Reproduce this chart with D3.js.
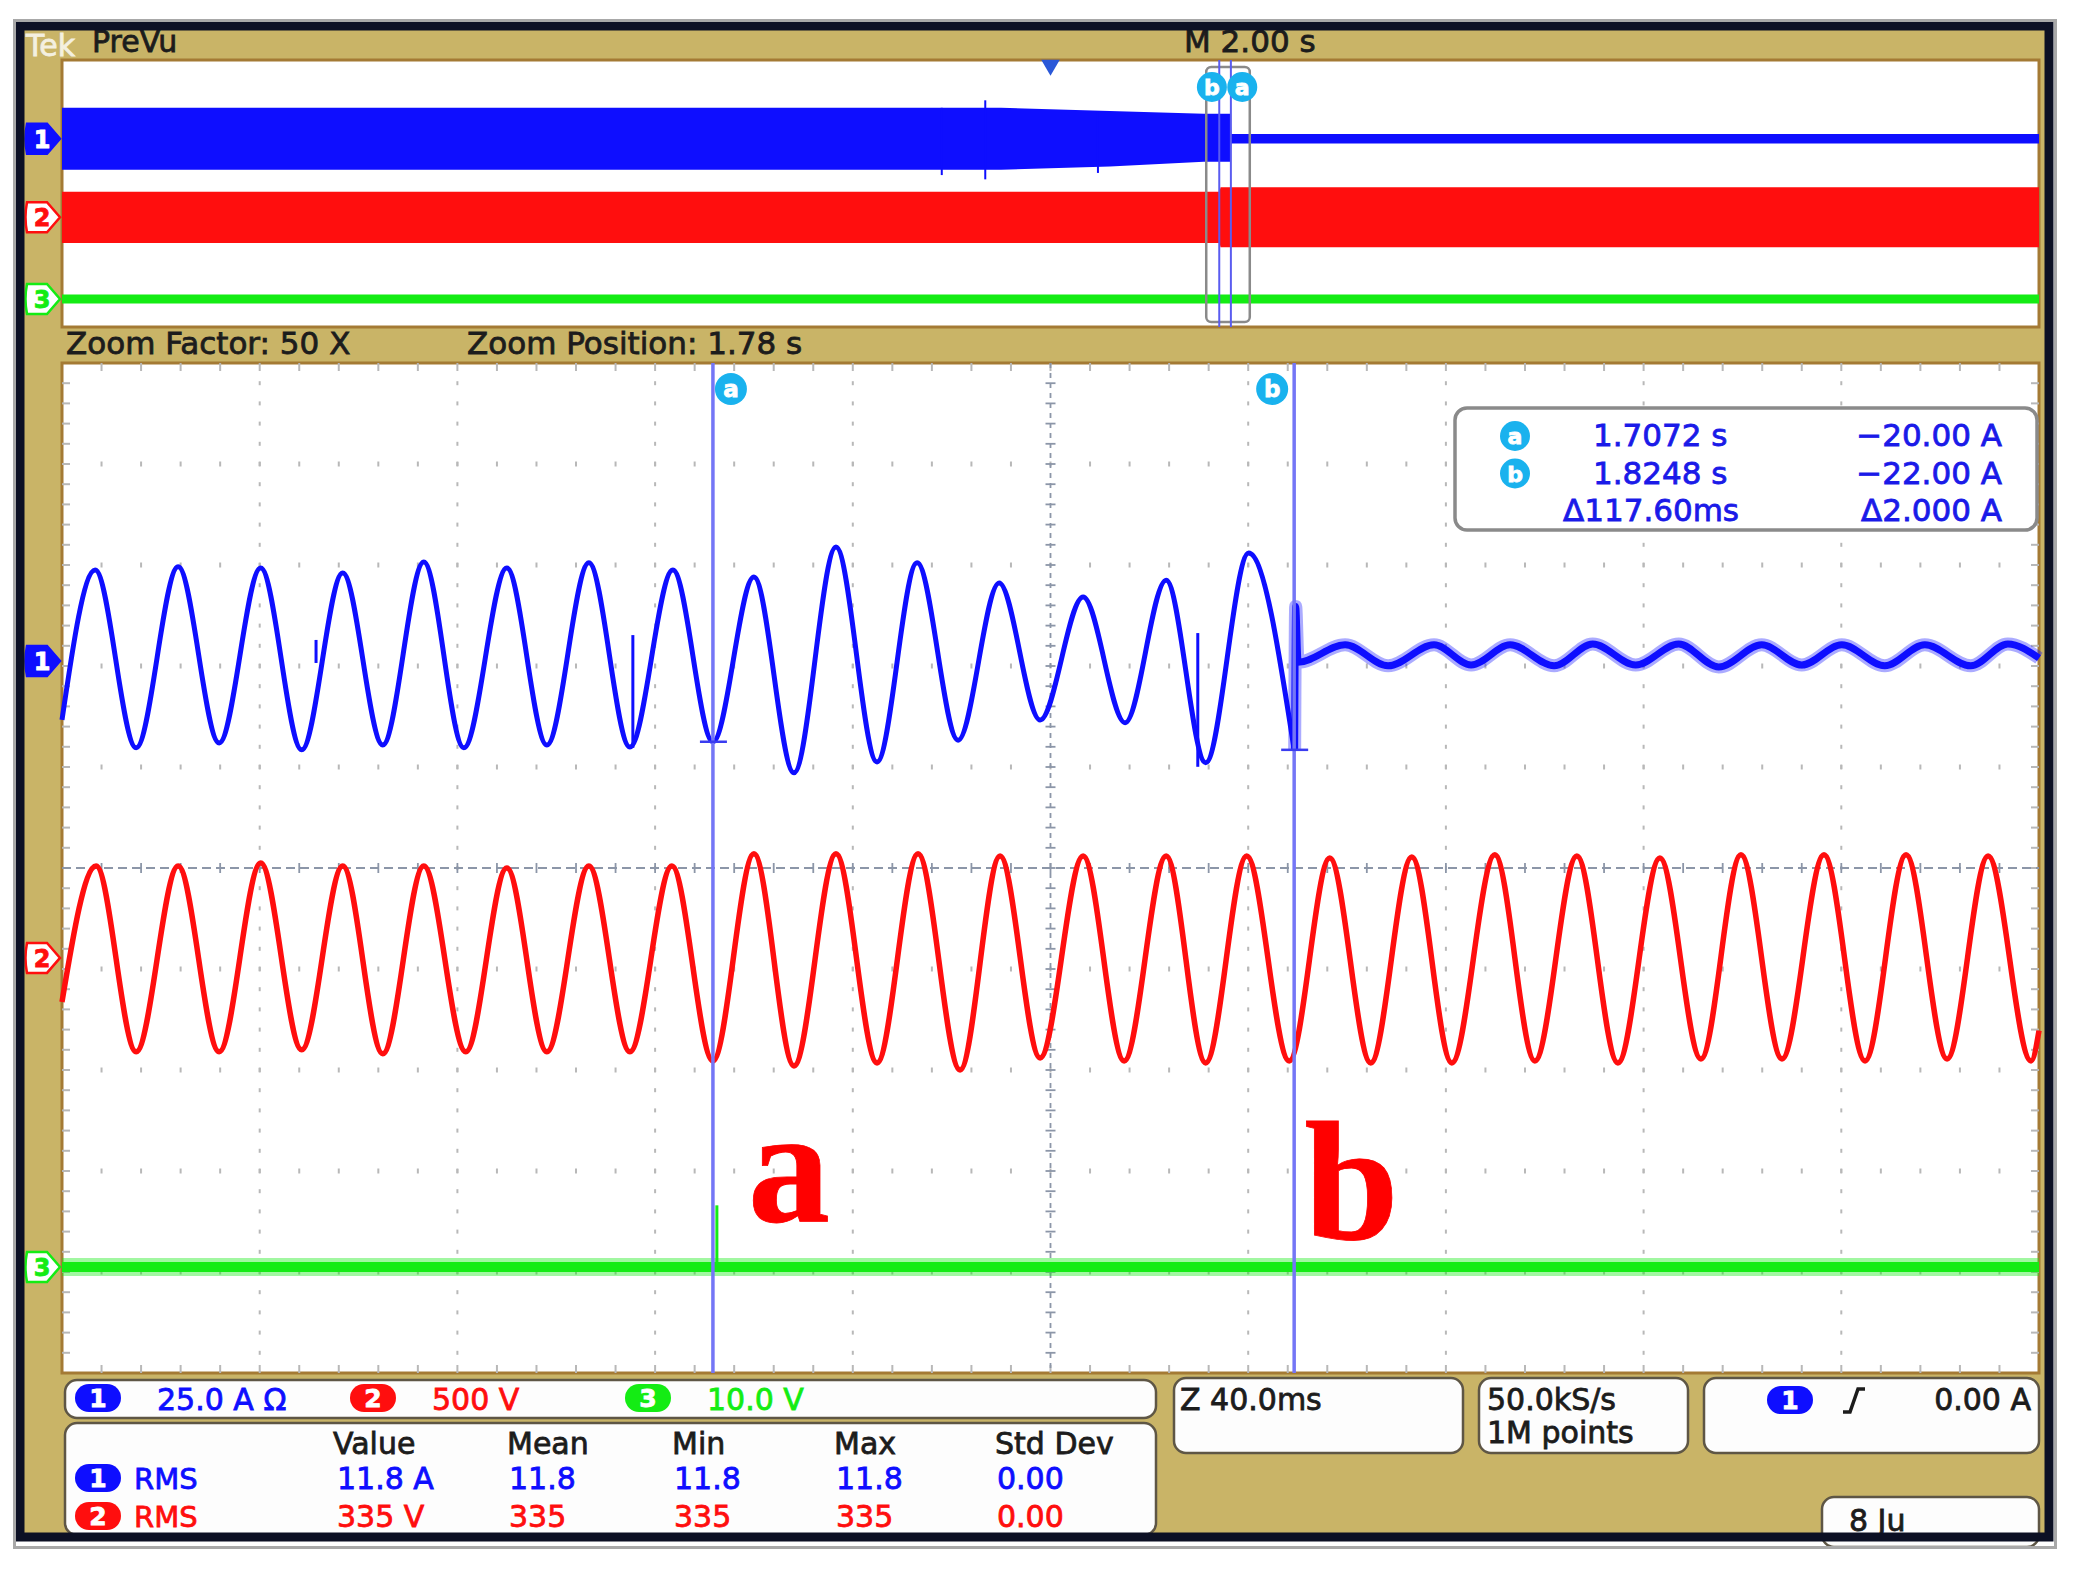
<!DOCTYPE html>
<html lang="en">
<head>
<meta charset="utf-8">
<script src="https://d3js.org/d3.v7.min.js"></script>
<style>
  body { margin: 0; background: #fff; }
</style>
</head>
<body>
<script>
var width = 2079, height = 1569;

var chColors  = ["#0e0eff", "#ff0e0e", "#14ec14"];
var chOffsets = [2.05, -0.89, -3.95];   // channel position, divisions
var chScales  = [25, 500, 10];          // units per division (A, V, V)
var scaleLabels = ["25.0 A \u03A9", "500 V", "10.0 V"];

// zoom window (40 ms/div), [time s, value]
var ch1Wave = [
  [1.5755, -14.6], [1.5822, 22.5], [1.5905, -21.5], [1.5990, 23.3], [1.6073, -20.3],
  [1.6157, 23.0], [1.6240, -22.0], [1.6323, 21.8], [1.6404, -20.8], [1.6487, 24.5],
  [1.6568, -21.5], [1.6655, 23.0], [1.6736, -20.8], [1.6821, 24.3], [1.6904, -21.3],
  [1.6991, 22.5], [1.7072, -20.0], [1.7155, 20.8], [1.7236, -27.7], [1.7321, 28.2],
  [1.7404, -25.0], [1.7485, 24.3], [1.7568, -19.6], [1.7651, 19.3], [1.7734, -14.6],
  [1.7821, 15.8], [1.7906, -15.3], [1.7989, 20.0], [1.8069, -25.2], [1.8156, 26.7],
  [1.8248, -22.0]
];
var ch1Ripple = [
  [1.8249, -22.0], [1.8251, 13.5], [1.8256, -0.3], [1.8351, 4.0], [1.8438, -1.2],
  [1.8531, 4.0], [1.8606, -1.0], [1.8685, 4.0], [1.8774, -1.2], [1.8852, 4.2],
  [1.8939, -1.0], [1.9026, 4.2], [1.9107, -1.5], [1.9194, 4.0], [1.9275, -1.0],
  [1.9356, 4.0], [1.9443, -1.2], [1.9524, 4.0], [1.9617, -1.2], [1.9692, 4.2],
  [1.9755, 0.7]
];
var ch1Glitches = [[1.6269, 5.2, -0.5], [1.6910, 6.4, -21.5], [1.8053, 6.9, -26.2]];
var ch2Wave = [
  [1.5755, -218], [1.5824, 455], [1.5905, -465], [1.5990, 455], [1.6073, -465],
  [1.6157, 470], [1.6240, -455], [1.6323, 455], [1.6404, -475], [1.6487, 455],
  [1.6572, -465], [1.6655, 445], [1.6736, -465], [1.6821, 455], [1.6904, -465],
  [1.6989, 455], [1.7072, -510], [1.7155, 515], [1.7236, -535], [1.7321, 515],
  [1.7404, -520], [1.7487, 515], [1.7572, -555], [1.7653, 505], [1.7734, -495],
  [1.7821, 505], [1.7904, -510], [1.7989, 505], [1.8069, -520], [1.8152, 505],
  [1.8238, -510], [1.8320, 495], [1.8403, -520], [1.8486, 500], [1.8567, -520],
  [1.8654, 510], [1.8735, -510], [1.8820, 505], [1.8903, -520], [1.8988, 495],
  [1.9071, -500], [1.9152, 510], [1.9235, -500], [1.9320, 510], [1.9403, -510],
  [1.9486, 510], [1.9569, -500], [1.9652, 505], [1.9739, -510], [1.9755, -360]
];
var ch3Wave = [[1.5755, 0], [1.9755, 0]];
var ch3Glitches = [[1.7080, 6.1, 0]];

// PreVu record (2 s/div), [time s, high, low]
var ch1Band = [[-10, 29, -29], [-0.5, 29, -29], [0.6, 26, -26], [1.55, 23.5, -21.5],
               [1.82, 23.5, -21.5], [1.83, 4.5, -4.5], [10, 4.5, -4.5]];
var ch1BandSpikes = [[-1.10, 29, -34], [-0.66, 36, -38], [0.48, 26, -32]];
var ch2Band = [[-10, 480, -480], [1.71, 480, -480], [1.72, 560, -560], [10, 560, -560]];
var ch3Band = [[-10, 1.7, -1.7], [10, 1.7, -1.7]];

// zoom + cursors
var zoomCenter = 1.7755, zoomSpan = 0.4;
var cursorNames  = ["a", "b"];
var cursorTimes  = [1.7072, 1.8248];
var cursorValues = [-20.00, -22.00];
var readoutRows = [["a", "1.7072 s", "\u221220.00 A"], ["b", "1.8248 s", "\u221222.00 A"], ["", "\u0394117.60ms", "\u03942.000 A"]];

// measurements
var measHeaders = ["Value", "Mean", "Min", "Max", "Std Dev"];
var measRows = [
  { ch: 0, name: "RMS", vals: ["11.8 A", "11.8", "11.8", "11.8", "0.00"] },
  { ch: 1, name: "RMS", vals: ["335 V", "335", "335", "335", "0.00"] }
];

// ---------- layout ----------
var plotL = 62, plotR = 2039;
var strip = { t: 60, b: 327 }, main = { t: 363, b: 1373 };
var gold = "#c9b467", edge = "#a47a34", ink = "#1c1c1c";

var xMain = d3.scaleLinear().domain([zoomCenter - zoomSpan / 2, zoomCenter + zoomSpan / 2]).range([plotL, plotR]);
var xTop  = d3.scaleLinear().domain([-10, 10]).range([plotL, plotR]);
var xDiv  = d3.scaleLinear().domain([0, 10]).range([plotL, plotR]);
var yMain = d3.scaleLinear().domain([-5, 5]).range([main.b, main.t]);
var yTop  = d3.scaleLinear().domain([-5, 5]).range([strip.b, strip.t]);

function div(ch, v) { return chOffsets[ch] + v / chScales[ch]; }

var svg = d3.select("body").append("svg").attr("width", width).attr("height", height)
  .style("font-family", "'DejaVu Sans', sans-serif");
svg.append("rect").attr("width", width).attr("height", height).attr("fill", "#fff");
svg.append("rect").attr("x", 18).attr("y", 24).attr("width", 2032).attr("height", 1514).attr("fill", gold);

function txt(g, x, y, s, color, size, anchor) {
  return g.append("text").attr("x", x).attr("y", y).text(s)
    .attr("fill", color).attr("font-size", size || 30)
    .attr("stroke", color).attr("stroke-width", 0.8)
    .attr("text-anchor", anchor || "start");
}

// header
txt(svg, 26, 56, "Tek", "#fff", 30).attr("opacity", 0.8);
txt(svg, 92, 52, "PreVu", ink, 30);
txt(svg, 1184, 52, "M 2.00 s", ink, 31);
txt(svg, 66, 354, "Zoom Factor: 50 X", ink, 31);
txt(svg, 467, 354, "Zoom Position: 1.78 s", ink, 31);

// ---------- PreVu strip ----------
svg.append("rect").attr("x", plotL).attr("y", strip.t).attr("width", plotR - plotL).attr("height", strip.b - strip.t)
  .attr("fill", "#fff").attr("stroke", edge).attr("stroke-width", 3);

[ch3Band, ch2Band, ch1Band].forEach(function (band, i) {
  var ch = 2 - i;
  svg.append("path").datum(band)
    .attr("d", d3.area().x(function (d) { return xTop(d[0]); })
      .y0(function (d) { return yTop(div(ch, d[2])); })
      .y1(function (d) { return yTop(div(ch, d[1])); }))
    .attr("fill", chColors[ch]);
});
svg.selectAll(".pvspike").data(ch1BandSpikes).enter().append("line")
  .attr("x1", function (d) { return xTop(d[0]); }).attr("x2", function (d) { return xTop(d[0]); })
  .attr("y1", function (d) { return yTop(div(0, d[1])); }).attr("y2", function (d) { return yTop(div(0, d[2])); })
  .attr("stroke", chColors[0]).attr("stroke-width", 2);

// zoom box + cursors in PreVu
svg.append("rect").attr("x", xTop(zoomCenter - zoomSpan / 2)).attr("y", strip.t + 7)
  .attr("width", xTop(zoomCenter + zoomSpan / 2) - xTop(zoomCenter - zoomSpan / 2) + 4).attr("height", strip.b - strip.t - 12)
  .attr("rx", 5).attr("fill", "none").attr("stroke", "#8a8a8a").attr("stroke-width", 2.5);
cursorTimes.forEach(function (t, i) {
  svg.append("line").attr("x1", xTop(t)).attr("x2", xTop(t)).attr("y1", strip.t).attr("y2", strip.b)
    .attr("stroke", "#5a5cf0").attr("stroke-width", 2);
});
cursorTimes.forEach(function (t, i) {
  var cx = xTop(t) + (i === 0 ? 23 : -19);
  svg.append("circle").attr("cx", cx).attr("cy", 87).attr("r", 15).attr("fill", "#19b2ee");
  txt(svg, cx, 95, cursorNames[i], "#fff", 22, "middle").attr("font-weight", "bold");
});
// trigger point
svg.append("path").attr("d", d3.symbol().type(d3.symbolTriangle).size(150))
  .attr("transform", "translate(" + xTop(0) + "," + (strip.t + 5) + ") rotate(180)")
  .attr("fill", "#2a58d8");

// channel ground markers
function marker(y, ch) {
  var p = "M27," + (y - 15) + " L47," + (y - 15) + " L60," + y + " L47," + (y + 15) + " L27," + (y + 15) + " Q24," + y + " 27," + (y - 15) + "Z";
  svg.append("path").attr("d", p)
    .attr("fill", ch === 0 ? chColors[0] : "#fff")
    .attr("stroke", chColors[ch]).attr("stroke-width", 2.5);
  txt(svg, 42, y + 9, String(ch + 1), ch === 0 ? "#fff" : chColors[ch], 24, "middle").attr("font-weight", "bold");
}
[0, 1, 2].forEach(function (ch) { marker(yTop(chOffsets[ch]), ch); });

// ---------- zoomed graticule ----------
svg.append("rect").attr("x", plotL).attr("y", main.t).attr("width", plotR - plotL).attr("height", main.b - main.t)
  .attr("fill", "#fff").attr("stroke", edge).attr("stroke-width", 3);

var grid = svg.append("g").attr("stroke", "#b8b8b8").attr("stroke-width", 2);
var minorY = d3.range(1, 50).map(function (m) { return -5 + m * 0.2; });
var minorX = d3.range(1, 50).map(function (m) { return m * 0.2; });
d3.range(1, 10).forEach(function (k) {
  if (k === 5) return;
  minorY.forEach(function (v) {
    grid.append("line").attr("x1", xDiv(k)).attr("x2", xDiv(k))
      .attr("y1", yMain(v) - 2).attr("y2", yMain(v) + 2);
  });
});
d3.range(-4, 5).forEach(function (j) {
  if (j === 0) return;
  minorX.forEach(function (v) {
    grid.append("line").attr("x1", xDiv(v)).attr("x2", xDiv(v))
      .attr("y1", yMain(j) - 2.5).attr("y2", yMain(j) + 2.5);
  });
});
// centre cross
var cross = svg.append("g").attr("stroke", "#8c96a8").attr("stroke-width", 1.8);
cross.append("line").attr("x1", xDiv(5)).attr("x2", xDiv(5)).attr("y1", main.t).attr("y2", main.b)
  .attr("stroke-dasharray", "5,5");
cross.append("line").attr("x1", plotL).attr("x2", plotR).attr("y1", yMain(0)).attr("y2", yMain(0))
  .attr("stroke-dasharray", "9,5");
minorY.forEach(function (v) {
  cross.append("line").attr("x1", xDiv(5) - 5).attr("x2", xDiv(5) + 5).attr("y1", yMain(v)).attr("y2", yMain(v));
  grid.append("line").attr("x1", plotL).attr("x2", plotL + 8).attr("y1", yMain(v)).attr("y2", yMain(v));
  grid.append("line").attr("x1", plotR - 8).attr("x2", plotR).attr("y1", yMain(v)).attr("y2", yMain(v));
});
minorX.forEach(function (v) {
  cross.append("line").attr("x1", xDiv(v)).attr("x2", xDiv(v)).attr("y1", yMain(0) - 5).attr("y2", yMain(0) + 5);
  grid.append("line").attr("x1", xDiv(v)).attr("x2", xDiv(v)).attr("y1", main.t).attr("y2", main.t + 8);
  grid.append("line").attr("x1", xDiv(v)).attr("x2", xDiv(v)).attr("y1", main.b - 8).attr("y2", main.b);
});

// ---------- traces ----------
function lineFor(ch) {
  return d3.line().x(function (d) { return xMain(d[0]); })
    .y(function (d) { return yMain(div(ch, d[1])); }).curve(d3.curveMonotoneX);
}
var traces = svg.append("g").attr("fill", "none").attr("stroke-linejoin", "round");
traces.append("path").datum(ch3Wave).attr("d", lineFor(2)).attr("stroke", chColors[2])
  .attr("stroke-width", 18).attr("opacity", 0.4);
traces.append("path").datum(ch3Wave).attr("d", lineFor(2)).attr("stroke", chColors[2]).attr("stroke-width", 10);
traces.append("path").datum(ch2Wave).attr("d", lineFor(1)).attr("stroke", chColors[1]).attr("stroke-width", 5.5);
traces.append("path").datum(ch1Wave).attr("d", lineFor(0)).attr("stroke", chColors[0]).attr("stroke-width", 5);
traces.append("path").datum(ch1Ripple).attr("d", lineFor(0)).attr("stroke", chColors[0])
  .attr("stroke-width", 13).attr("opacity", 0.35);
traces.append("path").datum(ch1Ripple).attr("d", lineFor(0)).attr("stroke", chColors[0]).attr("stroke-width", 7);

function glitches(data, ch) {
  traces.selectAll(null).data(data).enter().append("line")
    .attr("x1", function (d) { return xMain(d[0]); }).attr("x2", function (d) { return xMain(d[0]); })
    .attr("y1", function (d) { return yMain(div(ch, d[1])); }).attr("y2", function (d) { return yMain(div(ch, d[2])); })
    .attr("stroke", chColors[ch]).attr("stroke-width", 3);
}
glitches(ch1Glitches, 0);
glitches(ch3Glitches, 2);

[0, 1, 2].forEach(function (ch) { marker(yMain(chOffsets[ch]), ch); });

// ---------- cursors ----------
cursorTimes.forEach(function (t, i) {
  var x = xMain(t);
  svg.append("line").attr("x1", x).attr("x2", x).attr("y1", main.t).attr("y2", main.b)
    .attr("stroke", "#7476f6").attr("stroke-width", 3.5);
  var yv = yMain(div(0, cursorValues[i]));
  svg.append("line").attr("x1", x - 13).attr("x2", x + 14).attr("y1", yv).attr("y2", yv)
    .attr("stroke", "#3a3cf0").attr("stroke-width", 2.5);
  var cx = x + (i === 0 ? 18 : -22);
  svg.append("circle").attr("cx", cx).attr("cy", 389).attr("r", 16).attr("fill", "#19b2ee");
  txt(svg, cx, 397, cursorNames[i], "#fff", 23, "middle").attr("font-weight", "bold");
});
// big annotation letters
txt(svg, xMain(cursorTimes[0]) + 35, 1221, "a", "#ff0000", 164)
  .style("font-family", "'Liberation Serif', 'Times New Roman', serif").attr("font-weight", "bold");
txt(svg, xMain(cursorTimes[1]) + 10, 1239, "b", "#ff0000", 170)
  .style("font-family", "'Liberation Serif', 'Times New Roman', serif").attr("font-weight", "bold");

// cursor readout
svg.append("rect").attr("x", 1455).attr("y", 408).attr("width", 582).attr("height", 122).attr("rx", 12)
  .attr("fill", "#fff").attr("stroke", "#8a8a8a").attr("stroke-width", 3.5);
readoutRows.forEach(function (r, i) {
  var y = 446 + i * 37.5;
  if (r[0]) {
    svg.append("circle").attr("cx", 1515).attr("cy", y - 10).attr("r", 15).attr("fill", "#19b2ee");
    txt(svg, 1515, y - 2, r[0], "#fff", 22, "middle").attr("font-weight", "bold");
  }
  txt(svg, i === 2 ? 1563 : 1593, y, r[1], "#1a1ae8", 31);
  txt(svg, 2002, y, r[2], "#1a1ae8", 31, "end");
});

// ---------- bottom panels ----------
function box(x, y, w, h) {
  svg.append("rect").attr("x", x).attr("y", y).attr("width", w).attr("height", h).attr("rx", 12)
    .attr("fill", "#fdfdfd").attr("stroke", "#5e5645").attr("stroke-width", 2.5);
}
function badge(cx, cy, ch) {
  svg.append("rect").attr("x", cx - 23).attr("y", cy - 14).attr("width", 46).attr("height", 28).attr("rx", 14)
    .attr("fill", chColors[ch]);
  txt(svg, cx, cy + 9, String(ch + 1), "#fff", 25, "middle").attr("font-weight", "bold");
}
box(65, 1380, 1091, 38);
[98, 373, 648].forEach(function (bx, ch) {
  badge(bx, 1398, ch);
  txt(svg, bx + 59, 1410, scaleLabels[ch], chColors[ch], 30);
});
box(65, 1423, 1091, 112);
var colX = [333, 507, 672, 834, 995];
measHeaders.forEach(function (h, i) { txt(svg, colX[i], 1454, h, ink, 30); });
measRows.forEach(function (r, j) {
  var y = 1489 + j * 38;
  badge(98, y - 11, r.ch);
  txt(svg, 134, y, r.name, chColors[r.ch], 29);
  r.vals.forEach(function (v, i) { txt(svg, colX[i] + (i === 0 ? 4 : 2), y, v, chColors[r.ch], 30); });
});
box(1174, 1378, 289, 75);
txt(svg, 1180, 1410, "Z 40.0ms", ink, 30);
box(1479, 1378, 209, 75);
txt(svg, 1487, 1410, "50.0kS/s", ink, 30);
txt(svg, 1487, 1443, "1M points", ink, 30);
box(1704, 1378, 335, 75);
badge(1790, 1400, 0);
svg.append("path").attr("d", "M1843,1412 L1850,1412 L1858,1389 L1865,1389")
  .attr("fill", "none").attr("stroke", ink).attr("stroke-width", 3.5);
txt(svg, 2031, 1410, "0.00 A", ink, 30, "end");
box(1822, 1497, 217, 50);
txt(svg, 1849, 1531, "8 Ju", ink, 30);

// bezel frame on top
svg.append("rect").attr("x", 20).attr("y", 26).attr("width", 2029).attr("height", 1511)
  .attr("fill", "none").attr("stroke", "#0c1024").attr("stroke-width", 9);
svg.append("rect").attr("x", 14.5).attr("y", 20.5).attr("width", 2041).attr("height", 1527)
  .attr("fill", "none").attr("stroke", "#a8a8a8").attr("stroke-width", 3);
</script>
</body>
</html>
